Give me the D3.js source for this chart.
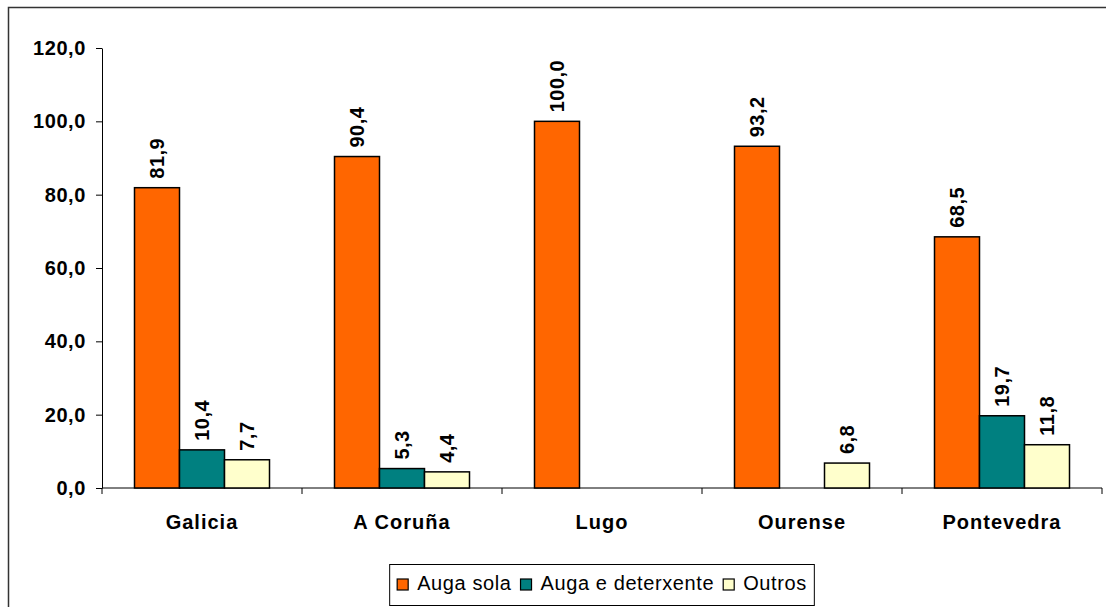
<!DOCTYPE html>
<html>
<head>
<meta charset="utf-8">
<script src="https://cdn.jsdelivr.net/npm/d3@7"></script>
<style>
  html, body { margin: 0; padding: 0; background: #fff; }
  svg { display: block; font-family: "Liberation Sans", Arial, sans-serif; }
</style>
</head>
<body>
<div id="chart"></div>
<script>
const categories = ["Galicia", "A Coruña", "Lugo", "Ourense", "Pontevedra"];
const seriesNames = ["Auga sola", "Auga e deterxente", "Outros"];
const augaSola = [81.9, 90.4, 100.0, 93.2, 68.5];
const augaDeterxente = [10.4, 5.3, null, null, 19.7];
const outros = [7.7, 4.4, null, 6.8, 11.8];
const seriesColors = ["#FF6600", "#008080", "#FFFFCC"];
const yTicks = [0, 20, 40, 60, 80, 100, 120];

const width = 1106, height = 607;
const margin = { top: 48, right: 4, bottom: 119, left: 102 };

const seriesValues = [augaSola, augaDeterxente, outros];
const fmt = v => d3.format(".1f")(v).replace(".", ",");

const svg = d3.select("#chart").append("svg")
    .attr("width", width)
    .attr("height", height);

// outer chart frame (runs off the right/bottom edge)
svg.append("rect")
    .attr("x", 8.5).attr("y", 7.5)
    .attr("width", 1110).attr("height", 620)
    .attr("fill", "none")
    .attr("stroke", "#333")
    .attr("stroke-width", 1.5);

const x0 = d3.scaleBand()
    .domain(categories)
    .range([margin.left, width - margin.right])
    .paddingInner(0.325)
    .paddingOuter(0.1625);

const x1 = d3.scaleBand()
    .domain(seriesNames)
    .range([0, x0.bandwidth()]);

const y = d3.scaleLinear()
    .domain([0, 120])
    .range([height - margin.bottom, margin.top]);

// y axis
const yAxis = svg.append("g")
    .attr("transform", `translate(${margin.left},0)`)
    .call(d3.axisLeft(y).tickValues(yTicks).tickFormat(fmt).tickSizeInner(6).tickSizeOuter(0).tickPadding(10));
yAxis.select(".domain").attr("stroke", "#000");
yAxis.selectAll(".tick line").attr("stroke", "#000");
yAxis.selectAll("text")
    .attr("fill", "#000")
    .style("font-size", "20px")
    .style("font-weight", "bold")
    .style("letter-spacing", "0.6px");

// category axis with boundary ticks
const catEdges = categories.map(c => x0(c) - x0.step() * x0.paddingOuter()).concat([width - margin.right]);
const xg = svg.append("g");
xg.append("line")
    .attr("x1", margin.left).attr("x2", width - margin.right)
    .attr("y1", y(0)).attr("y2", y(0))
    .attr("stroke", "#000");
xg.selectAll("line.tk").data(catEdges).join("line")
    .attr("class", "tk")
    .attr("x1", d => d).attr("x2", d => d)
    .attr("y1", y(0)).attr("y2", y(0) + 6)
    .attr("stroke", "#000");
xg.selectAll("text").data(categories).join("text")
    .attr("x", d => x0(d) + x0.bandwidth() / 2)
    .attr("y", y(0) + 41)
    .attr("text-anchor", "middle")
    .style("font-size", "20px")
    .style("font-weight", "bold")
    .style("letter-spacing", "1px")
    .text(d => d);

// bars
const bars = [];
categories.forEach((c, i) => {
  seriesNames.forEach((s, j) => {
    const v = seriesValues[j][i];
    if (v != null) bars.push({ cat: c, series: s, value: v, color: seriesColors[j] });
  });
});

const bg = svg.append("g");
bg.selectAll("rect").data(bars).join("rect")
    .attr("x", d => x0(d.cat) + x1(d.series))
    .attr("y", d => y(d.value))
    .attr("width", x1.bandwidth())
    .attr("height", d => y(0) - y(d.value))
    .attr("fill", d => d.color)
    .attr("stroke", "#000")
    .attr("stroke-width", 1.5);

bg.selectAll("text").data(bars).join("text")
    .attr("transform", d => `translate(${x0(d.cat) + x1(d.series) + x1.bandwidth() / 2 + 7},${y(d.value) - 9}) rotate(-90)`)
    .attr("text-anchor", "start")
    .style("font-size", "20px")
    .style("font-weight", "bold")
    .style("letter-spacing", "0.5px")
    .text(d => fmt(d.value));

// legend
const lg = svg.append("g");
const items = lg.selectAll("g").data(seriesNames).join("g");
items.append("rect")
    .attr("width", 11).attr("height", 11)
    .attr("y", -11)
    .attr("fill", (d, i) => seriesColors[i])
    .attr("stroke", "#000")
    .attr("stroke-width", 1.2);
items.append("text")
    .attr("x", 20)
    .attr("y", 0)
    .style("font-size", "20px")
    .style("letter-spacing", "0.6px")
    .text(d => d);

let cx = 0;
const offs = [];
items.each(function () {
  offs.push(cx);
  const w = 20 + d3.select(this).select("text").node().getComputedTextLength();
  cx += w + 9;
});
const legendW = cx - 9;
const legendCenter = (margin.left + width - margin.right) / 2;
const lx = legendCenter - legendW / 2;
items.attr("transform", (d, i) => `translate(${lx + offs[i]},${590})`);
lg.insert("rect", ":first-child")
    .attr("x", lx - 7.5).attr("y", 564.5)
    .attr("width", legendW + 15).attr("height", 41)
    .attr("fill", "#fff")
    .attr("stroke", "#000")
    .attr("stroke-width", 1);
</script>
</body>
</html>
